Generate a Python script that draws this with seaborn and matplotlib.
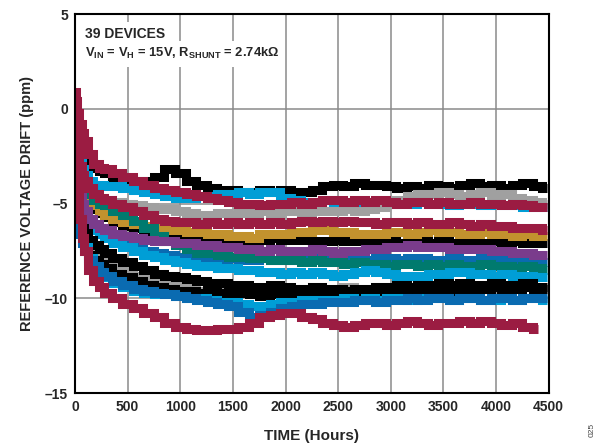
import numpy as np
import pandas as pd
import matplotlib
matplotlib.use("Agg")
import matplotlib.pyplot as plt
import seaborn as sns

sns.set_theme(style="white")
plt.rcParams["font.family"] = ["Liberation Sans", "DejaVu Sans"]
plt.rcParams["mathtext.fontset"] = "custom"
plt.rcParams["mathtext.rm"] = "Liberation Sans:bold"
plt.rcParams["mathtext.bf"] = "Liberation Sans:bold"
plt.rcParams["mathtext.it"] = "Liberation Sans:bold"

# sample times (hours)
hours = [0, 10, 25, 50, 75, 100, 150, 200, 250, 300,
         400, 500, 600, 700, 800, 900, 1000, 1100, 1200, 1300,
         1400, 1500, 1600, 1700, 1800, 1900, 2000, 2100, 2200, 2300,
         2400, 2500, 2600, 2700, 2800, 2900, 3000, 3100, 3200, 3300,
         3400, 3500, 3600, 3700, 3800, 3900, 4000, 4100, 4200, 4300,
         4400, 4480]

# drift per device (ppm)
black_top = [0.4, -0.3, -1.0, -1.7, -2.1, -2.4, -2.8, -3.1, -3.3, -3.4,
             -3.6, -3.7, -3.8, -3.8, -3.6, -3.2, -3.4, -3.8, -4.0, -4.2,
             -4.3, -4.3, -4.4, -4.4, -4.3, -4.4, -4.3, -4.4, -4.4, -4.3,
             -4.1, -4.0, -4.1, -3.9, -4.0, -4.0, -4.1, -4.2, -4.1, -4.2,
             -4.0, -4.1, -4.2, -4.0, -3.9, -4.1, -4.0, -4.2, -4.0, -3.9,
             -4.1, -4.2]
cyan_top = [0.2, -1.0, -2.0, -2.8, -3.2, -3.5, -3.8, -4.0, -4.0, -4.1,
            -4.1, -4.2, -4.3, -4.4, -4.5, -4.6, -4.7, -4.7, -4.6, -4.6,
            -4.5, -4.5, -4.4, -4.5, -4.4, -4.4, -4.7, -4.8, -4.9, -4.9,
            -4.8, -4.9, -5.0, -4.9, -4.9, -5.0, -4.9, -5.0, -5.0, -4.9,
            -5.0, -5.0, -5.1, -5.0, -5.0, -5.1, -5.0, -5.1, -5.1, -5.2,
            -5.2, -5.2]
gray_top = [0.0, -1.5, -2.5, -3.3, -3.8, -4.1, -4.4, -4.6, -4.7, -4.8,
            -4.9, -5.0, -5.1, -5.2, -5.3, -5.3, -5.4, -5.5, -5.6, -5.6,
            -5.5, -5.6, -5.5, -5.5, -5.4, -5.5, -5.4, -5.4, -5.5, -5.4,
            -5.4, -5.4, -5.3, -5.4, -5.3, -5.2, -5.0, -4.8, -4.6, -4.5,
            -4.5, -4.4, -4.5, -4.6, -4.5, -4.4, -4.6, -4.5, -4.7, -4.8,
            -4.9, -5.0]
crimson_top = [0.9, 0.4, -0.2, -0.8, -1.3, -1.7, -2.4, -2.9, -3.1, -3.2,
               -3.4, -3.6, -3.8, -4.0, -4.2, -4.3, -4.4, -4.5, -4.6, -4.7,
               -4.8, -4.9, -5.0, -5.0, -5.1, -5.0, -5.0, -4.9, -5.0, -4.9,
               -4.8, -4.8, -4.9, -4.8, -4.9, -4.8, -4.9, -5.0, -4.9, -4.9,
               -5.0, -4.9, -5.0, -5.0, -4.9, -5.0, -5.0, -5.1, -5.0, -5.1,
               -5.2, -5.2]
crimson_mid = [0.0, -1.2, -2.2, -3.0, -3.5, -3.8, -4.2, -4.5, -4.7, -4.8,
               -5.0, -5.2, -5.4, -5.6, -5.8, -5.9, -6.0, -6.0, -6.1, -6.0,
               -6.1, -6.0, -6.1, -6.0, -6.1, -6.0, -6.1, -6.0, -5.9, -6.0,
               -5.9, -6.0, -5.9, -6.0, -6.0, -6.1, -6.0, -6.0, -6.1, -6.0,
               -6.1, -6.1, -6.0, -6.1, -6.2, -6.1, -6.2, -6.2, -6.3, -6.3,
               -6.3, -6.4]
gold = [0.0, -1.8, -2.9, -3.7, -4.1, -4.4, -4.8, -5.1, -5.4, -5.6,
        -5.8, -6.0, -6.1, -6.2, -6.3, -6.4, -6.4, -6.5, -6.5, -6.6,
        -6.6, -6.7, -6.7, -6.8, -6.6, -6.6, -6.6, -6.5, -6.5, -6.4,
        -6.4, -6.5, -6.5, -6.6, -6.6, -6.6, -6.5, -6.5, -6.6, -6.5,
        -6.4, -6.5, -6.5, -6.6, -6.6, -6.5, -6.6, -6.6, -6.7, -6.6,
        -6.7, -6.7]
black_mid = [0.0, -2.0, -3.1, -3.9, -4.3, -4.6, -5.0, -5.3, -5.5, -5.7,
             -6.0, -6.2, -6.3, -6.5, -6.6, -6.7, -6.7, -6.8, -6.9, -6.9,
             -7.0, -7.0, -7.0, -6.9, -6.9, -6.8, -6.9, -6.9, -6.9, -7.0,
             -7.0, -6.9, -7.0, -7.0, -7.1, -7.0, -7.0, -7.1, -7.1, -7.0,
             -7.1, -7.0, -7.1, -7.1, -7.0, -7.1, -7.0, -7.1, -7.0, -7.1,
             -7.1, -7.1]
purple = [0.0, -2.5, -3.6, -4.5, -5.0, -5.4, -5.8, -6.1, -6.3, -6.4,
          -6.6, -6.7, -6.8, -6.9, -7.0, -7.0, -7.1, -7.1, -7.2, -7.2,
          -7.3, -7.3, -7.4, -7.4, -7.5, -7.4, -7.5, -7.5, -7.5, -7.4,
          -7.5, -7.6, -7.5, -7.5, -7.4, -7.4, -7.3, -7.3, -7.2, -7.3,
          -7.3, -7.3, -7.4, -7.4, -7.4, -7.4, -7.5, -7.5, -7.6, -7.6,
          -7.7, -7.7]
teal = [0.0, -1.8, -2.8, -3.5, -3.9, -4.2, -4.5, -4.8, -5.0, -5.1,
        -5.4, -5.6, -5.9, -6.3, -6.7, -7.0, -7.2, -7.4, -7.6, -7.6,
        -7.7, -7.8, -7.8, -7.9, -7.9, -8.0, -8.0, -8.0, -8.1, -8.0,
        -8.1, -8.1, -8.2, -8.1, -8.2, -8.2, -8.3, -8.2, -8.2, -8.3,
        -8.2, -8.3, -8.2, -8.3, -8.3, -8.2, -8.3, -8.3, -8.4, -8.3,
        -8.4, -8.5]
blue_mid = [0.0, -2.6, -3.8, -4.6, -5.1, -5.5, -6.0, -6.3, -6.5, -6.6,
            -6.9, -7.1, -7.3, -7.5, -7.6, -7.7, -7.8, -7.8, -7.9, -7.9,
            -8.0, -7.9, -8.0, -8.0, -7.9, -8.0, -7.9, -8.0, -8.0, -7.9,
            -7.9, -8.0, -7.9, -7.9, -8.0, -7.9, -7.9, -8.0, -7.9, -7.9,
            -8.0, -8.0, -7.9, -8.0, -8.0, -7.9, -8.0, -8.0, -8.1, -8.0,
            -8.1, -8.1]
cyan_mid = [-0.3, -3.0, -4.2, -5.0, -5.4, -5.7, -6.1, -6.4, -6.6, -6.8,
            -7.1, -7.3, -7.5, -7.7, -7.8, -8.0, -8.1, -8.2, -8.3, -8.3,
            -8.4, -8.4, -8.5, -8.5, -8.6, -8.6, -8.7, -8.6, -8.7, -8.6,
            -8.7, -8.8, -8.7, -8.6, -8.5, -8.6, -8.7, -8.8, -8.8, -8.8,
            -8.7, -8.7, -8.6, -8.6, -8.7, -8.7, -8.8, -8.7, -8.8, -8.8,
            -8.9, -8.9]
gray_low = [-0.4, -4.0, -5.3, -6.1, -6.6, -6.9, -7.3, -7.6, -7.8, -8.0,
            -8.3, -8.6, -8.8, -9.0, -9.1, -9.2, -9.3, -9.4, -9.6, -9.8,
            -9.6, -9.5, -9.5, -9.6, -9.5, -9.5, -9.6, -9.5, -9.5, -9.4,
            -9.5, -9.5, -9.4, -9.5, -9.5, -9.4, -9.5, -9.4, -9.4, -9.5,
            -9.4, -9.4, -9.5, -9.4, -9.4, -9.4, -9.5, -9.4, -9.4, -9.4,
            -9.5, -9.5]
black_low = [-0.3, -3.8, -5.0, -5.8, -6.2, -6.5, -6.9, -7.2, -7.4, -7.6,
             -7.9, -8.1, -8.3, -8.5, -8.7, -8.8, -8.9, -9.0, -9.1, -9.2,
             -9.2, -9.3, -9.3, -9.4, -9.4, -9.3, -9.4, -9.5, -9.5, -9.4,
             -9.5, -9.5, -9.6, -9.5, -9.5, -9.4, -9.4, -9.3, -9.4, -9.3,
             -9.3, -9.2, -9.3, -9.2, -9.3, -9.3, -9.2, -9.3, -9.3, -9.2,
             -9.4, -9.4]
black_bottom = [-0.5, -4.2, -5.5, -6.4, -6.9, -7.2, -7.7, -8.0, -8.2, -8.4,
                -8.7, -8.9, -9.1, -9.3, -9.4, -9.5, -9.6, -9.6, -9.7, -9.6,
                -9.7, -9.8, -9.7, -9.8, -9.9, -9.8, -9.8, -9.7, -9.7, -9.6,
                -9.6, -9.7, -9.7, -9.6, -9.6, -9.6, -9.5, -9.6, -9.5, -9.6,
                -9.5, -9.5, -9.6, -9.5, -9.5, -9.5, -9.4, -9.5, -9.5, -9.4,
                -9.5, -9.5]
cyan_low = [-0.2, -3.8, -5.2, -6.3, -6.9, -7.3, -7.9, -8.3, -8.6, -8.9,
            -9.2, -9.4, -9.6, -9.7, -9.8, -9.8, -9.9, -10.0, -10.0, -10.1,
            -10.2, -10.2, -10.3, -10.4, -10.4, -10.3, -10.2, -10.2, -10.1, -10.1,
            -10.1, -10.1, -10.0, -10.1, -10.0, -10.1, -10.0, -10.0, -10.1, -10.0,
            -10.0, -10.0, -10.1, -10.0, -10.0, -10.1, -10.1, -10.0, -10.1, -10.0,
            -10.0, -10.1]
blue_low = [-0.5, -4.3, -5.6, -6.6, -7.1, -7.5, -8.0, -8.3, -8.6, -8.8,
            -9.1, -9.3, -9.5, -9.6, -9.7, -9.8, -9.9, -10.0, -10.1, -10.2,
            -10.3, -10.4, -10.7, -11.0, -10.9, -10.7, -10.5, -10.4, -10.3, -10.3,
            -10.2, -10.2, -10.2, -10.1, -10.1, -10.2, -10.1, -10.1, -10.0, -10.1,
            -10.0, -10.0, -10.1, -10.0, -10.0, -10.1, -10.0, -10.0, -10.1, -10.0,
            -10.0, -10.0]
crimson_low = [0.2, -2.5, -4.2, -5.8, -6.8, -7.5, -8.5, -9.1, -9.4, -9.7,
               -10.0, -10.3, -10.5, -10.8, -11.0, -11.3, -11.5, -11.6, -11.7, -11.7,
               -11.6, -11.6, -11.5, -11.3, -11.0, -10.9, -10.8, -10.8, -11.0, -11.1,
               -11.3, -11.4, -11.5, -11.4, -11.3, -11.3, -11.4, -11.3, -11.2, -11.3,
               -11.4, -11.3, -11.3, -11.2, -11.3, -11.2, -11.3, -11.4, -11.3, -11.5,
               -11.6, np.nan]

CRIMSON = "#9B1C42"
BLACK = "#000000"
GRAY = "#A0A0A0"
CYAN = "#009ED6"
BLUE = "#0A6BB1"
TEAL = "#007A6E"
GOLD = "#C2922E"
PURPLE = "#7A3C8C"

# drawing order: first listed is underneath
devices = [
    (black_top, BLACK), (cyan_top, CYAN), (gray_top, GRAY),
    (black_mid, BLACK), (gold, GOLD), (blue_mid, BLUE), (teal, TEAL),
    (cyan_mid, CYAN), (gray_low, GRAY), (black_bottom, BLACK),
    (black_low, BLACK), (cyan_low, CYAN), (blue_low, BLUE),
    (purple, PURPLE), (crimson_mid, CRIMSON), (crimson_top, CRIMSON),
    (crimson_low, CRIMSON),
]

x_ticks = [0, 500, 1000, 1500, 2000, 2500, 3000, 3500, 4000, 4500]
y_ticks = [-15, -10, -5, 0, 5]
y_tick_labels = ["\u201315", "\u201310", "\u20135", "0", "5"]

fig = plt.figure(figsize=(6.02, 4.46), dpi=100)
ax = fig.add_axes([0.1246, 0.1188, 0.7869, 0.8498])

for values, color in devices:
    df = pd.DataFrame({"hours": hours, "drift": values}).dropna()
    sns.lineplot(data=df, x="hours", y="drift", color=color, lw=6.5,
                 drawstyle="steps-mid", ax=ax, legend=False,
                 solid_joinstyle="miter", solid_capstyle="butt")

ax.set_xlim(0, 4500)
ax.set_ylim(-15, 5)
ax.set_xticks(x_ticks)
ax.set_xticklabels([str(v) for v in x_ticks], fontsize=10, fontweight="bold")
ax.set_yticks(y_ticks)
ax.set_yticklabels(y_tick_labels, fontsize=10, fontweight="bold")
ax.tick_params(axis="both", length=0, pad=5)
ax.grid(True, color="#8a8a8a", lw=1.1, zorder=0)
ax.set_axisbelow(True)
for sp in ax.spines.values():
    sp.set_color("black")
    sp.set_linewidth(1.5)

ax.set_xlabel("TIME (Hours)", fontsize=11, fontweight="bold", labelpad=11)
ax.set_ylabel("REFERENCE VOLTAGE DRIFT (ppm)", fontsize=10.5,
              fontweight="bold", labelpad=8)

ax.text(0.022, 0.965, "39 DEVICES", transform=ax.transAxes, ha="left",
        va="top", fontsize=10, fontweight="bold", zorder=10,
        bbox=dict(facecolor="white", edgecolor="none", pad=4))
ax.text(0.022, 0.915,
        r"$\mathbf{V_{IN}}$ = $\mathbf{V_{H}}$ = 15V, $\mathbf{R_{SHUNT}}$ = 2.74k$\mathbf{\Omega}$",
        transform=ax.transAxes, ha="left", va="top", fontsize=9.4,
        fontweight="bold", zorder=10,
        bbox=dict(facecolor="white", edgecolor="none", pad=4))

fig.text(0.983, 0.035, "025", rotation=90, fontsize=6, color="#444444",
         ha="center", va="center")

fig.savefig("out.png", dpi=100)
